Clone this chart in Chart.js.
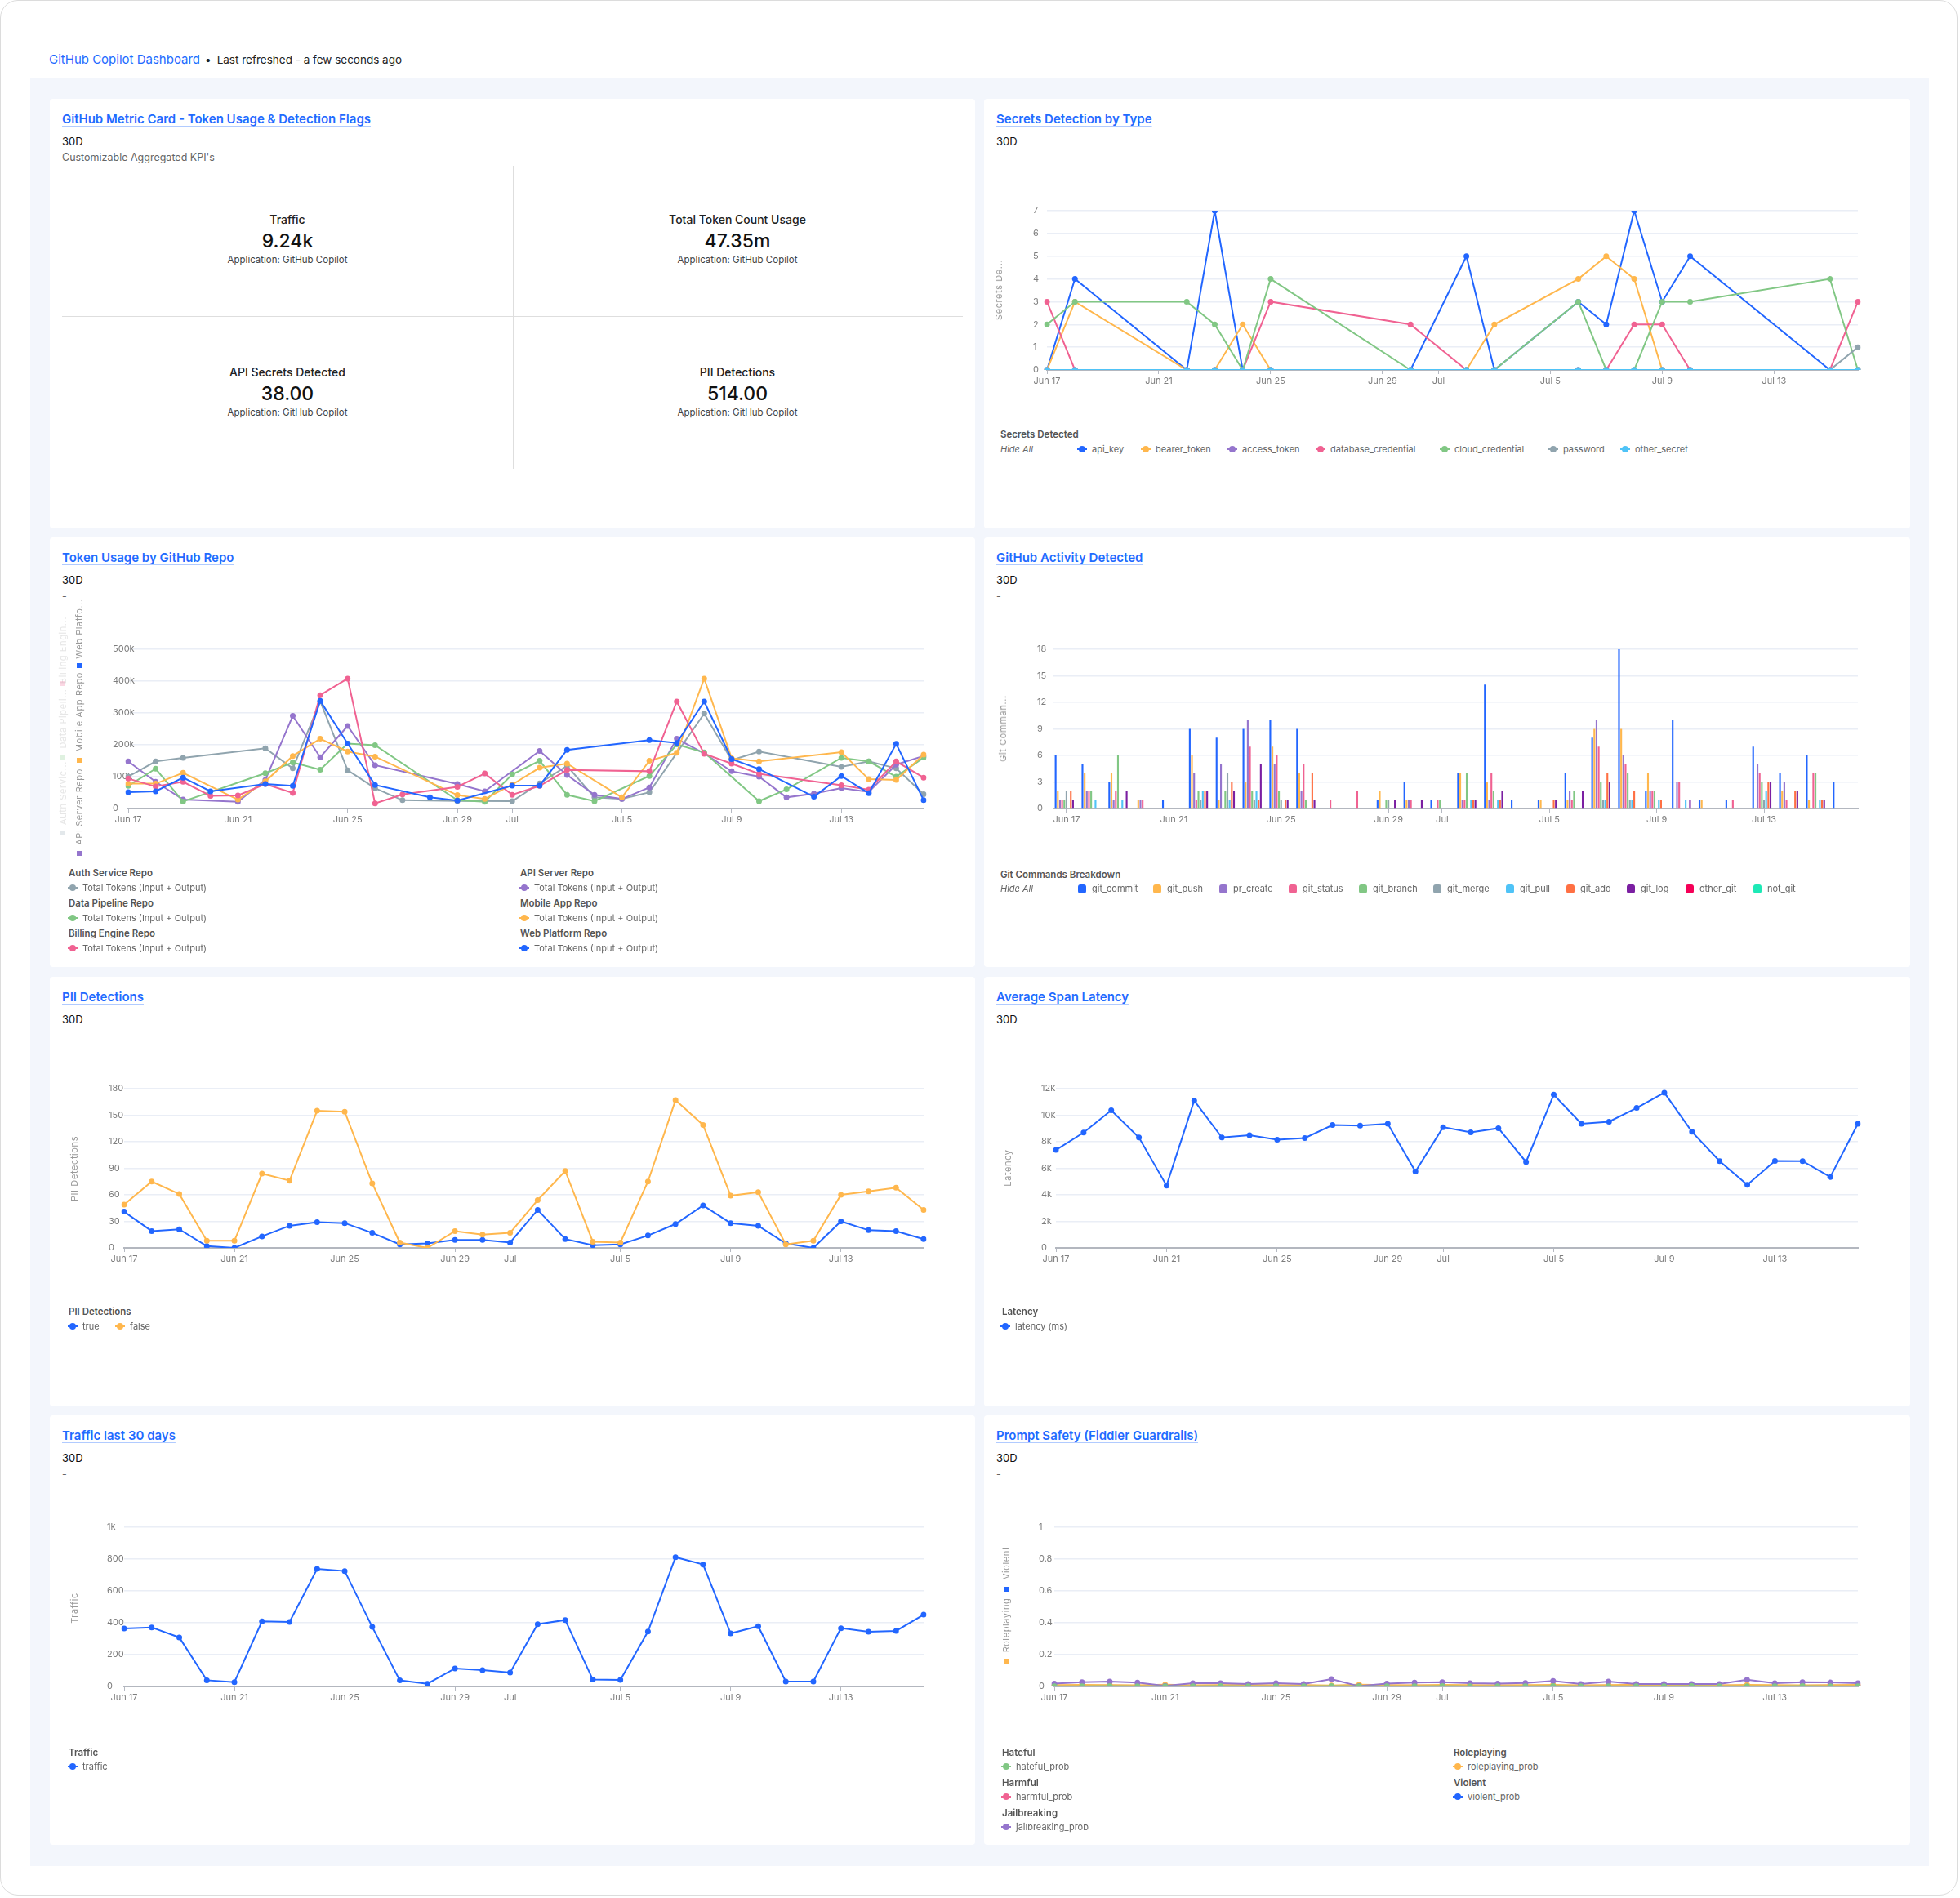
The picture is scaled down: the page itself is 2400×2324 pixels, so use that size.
<!DOCTYPE html>
<html>
<head>
<meta charset="utf-8">
<title>GitHub Copilot Dashboard</title>
<script src="https://cdn.jsdelivr.net/npm/chart.js@4.4.1/dist/chart.umd.min.js"></script>
<style>
  html, body { margin: 0; padding: 0; background: #fff; }
  body { width: 2400px; height: 2324px; position: relative; overflow: hidden;
         font-family: Inter, "Noto Sans", Arial, sans-serif; }
  .frame { position: absolute; left: 0; top: 0; width: 2397px; height: 2321px; box-sizing: border-box;
           border: 1.5px solid #dcdcdc; border-radius: 22px; }
  .hdr { position: absolute; left: 60px; top: 64px; line-height: 18px; font-size: 13.5px; color: #222; white-space: nowrap; }
  .hdr .app { color: #1f6bff; font-size: 15px; }
  .hdr .dot { margin: 0 7px 0 6px; }
  .bg { position: absolute; left: 37px; top: 95px; width: 2325px; height: 2190px; background: #f3f6fc; }
  .card { position: absolute; background: #fff; border-radius: 4px; }
  .ttl { position: absolute; left: 15px; top: 16px; line-height: 18px; font-size: 15px; font-weight: 600; color: #1f6bff;
         text-decoration: underline; text-decoration-color: rgba(31,107,255,0.35); text-underline-offset: 3px; white-space: nowrap; }
  .d30 { position: absolute; left: 15px; top: 44px; line-height: 17px; font-size: 13px; color: #111; }
  .dash { position: absolute; left: 15px; top: 64px; line-height: 16px; font-size: 12.5px; color: #666; }
  canvas { position: absolute; left: 0; top: 120px; }
  .t { position: absolute; white-space: nowrap; line-height: 16px; }
  .lgt { font-size: 11.5px; font-weight: 600; color: #555; }
  .lgi { font-size: 11px; color: #666; }
  .hide { font-size: 11px; font-style: italic; color: #666; }
  .lk { position: absolute; width: 12px; height: 10px; }
  .lk .ln { position: absolute; left: 0; width: 12px; top: 4px; height: 2px; }
  .lk .pt { position: absolute; left: 2px; top: 1px; width: 8px; height: 8px; border-radius: 50%; }
  .bk { position: absolute; width: 10px; height: 11px; border-radius: 3px; }
  .rot { position: absolute; white-space: nowrap; font-size: 11px; letter-spacing: 0.6px; color: #999;
         transform: translate(-50%, -50%) rotate(-90deg); line-height: 12px; }
  .sq { position: absolute; width: 6px; height: 6px; transform: translate(-50%, -50%); }
  .kl { font-size: 14px; font-weight: 500; color: #222; transform: translateX(-50%); }
  .kv { font-size: 23px; font-weight: 500; color: #111; transform: translateX(-50%); line-height: 28px; }
  .ks { font-size: 11.5px; color: #444; transform: translateX(-50%); }
  .vl { position: absolute; width: 1px; background: #dedede; }
  .hl { position: absolute; height: 1px; background: #dedede; }
</style>
</head>
<body>
<div class="frame"></div>
<div class="hdr"><span class="app">GitHub Copilot Dashboard</span><span class="dot">•</span>Last refreshed - a few seconds ago</div>
<div class="bg"></div>

<div class="card" id="c1" style="left:61px;top:121px;width:1133px;height:526px">
  <div class="ttl">GitHub Metric Card - Token Usage &amp; Detection Flags</div>
  <div class="d30">30D</div>
  <div class="dash">Customizable Aggregated KPI's</div>
</div>
<div class="card" id="c2" style="left:1205px;top:121px;width:1134px;height:526px">
  <div class="ttl">Secrets Detection by Type</div><div class="d30">30D</div><div class="dash">-</div>
  <canvas id="secrets"></canvas>
</div>
<div class="card" id="c3" style="left:61px;top:658px;width:1133px;height:526px">
  <div class="ttl">Token Usage by GitHub Repo</div><div class="d30">30D</div><div class="dash">-</div>
  <canvas id="tokens"></canvas>
</div>
<div class="card" id="c4" style="left:1205px;top:658px;width:1134px;height:526px">
  <div class="ttl">GitHub Activity Detected</div><div class="d30">30D</div><div class="dash">-</div>
  <canvas id="git"></canvas>
</div>
<div class="card" id="c5" style="left:61px;top:1196px;width:1133px;height:526px">
  <div class="ttl">PII Detections</div><div class="d30">30D</div><div class="dash">-</div>
  <canvas id="pii"></canvas>
</div>
<div class="card" id="c6" style="left:1205px;top:1196px;width:1134px;height:526px">
  <div class="ttl">Average Span Latency</div><div class="d30">30D</div><div class="dash">-</div>
  <canvas id="latency"></canvas>
</div>
<div class="card" id="c7" style="left:61px;top:1733px;width:1133px;height:526px">
  <div class="ttl">Traffic last 30 days</div><div class="d30">30D</div><div class="dash">-</div>
  <canvas id="traffic"></canvas>
</div>
<div class="card" id="c8" style="left:1205px;top:1733px;width:1134px;height:526px">
  <div class="ttl">Prompt Safety (Fiddler Guardrails)</div><div class="d30">30D</div><div class="dash">-</div>
  <canvas id="safety"></canvas>
</div>

<script>
// ---- data ----
const days = ['Jun 17','Jun 18','Jun 19','Jun 20','Jun 21','Jun 22','Jun 23','Jun 24','Jun 25','Jun 26',
  'Jun 27','Jun 28','Jun 29','Jun 30','Jul 1','Jul 2','Jul 3','Jul 4','Jul 5','Jul 6',
  'Jul 7','Jul 8','Jul 9','Jul 10','Jul 11','Jul 12','Jul 13','Jul 14','Jul 15','Jul 16'];
const tickDays = [0, 4, 8, 12, 14, 18, 22, 26];
const tickLabels = ['Jun 17','Jun 21','Jun 25','Jun 29','Jul','Jul 5','Jul 9','Jul 13'];

const kpiNames = ['Traffic', 'Total Token Count Usage', 'API Secrets Detected', 'PII Detections'];
const kpiValues = ['9.24k', '47.35m', '38.00', '514.00'];

// secrets detected per type (null = no data that day)
const secretTypes = ['api_key','bearer_token','access_token','database_credential','cloud_credential','password','other_secret'];
const apiKey     = [0,4,null,null,null,0,7,0,0,null,null,null,null,0,null,5,0,null,null,3,2,7,3,5,null,null,null,null,0,0];
const bearerTok  = [0,3,null,null,null,0,0,2,0,null,null,null,null,0,null,0,2,null,null,4,5,4,0,0,null,null,null,null,0,0];
const accessTok  = [0,0,null,null,null,0,0,0,0,null,null,null,null,0,null,0,0,null,null,0,0,0,0,0,null,null,null,null,0,0];
const dbCred     = [3,0,null,null,null,0,0,0,3,null,null,null,null,2,null,0,0,null,null,0,0,2,2,0,null,null,null,null,0,3];
const cloudCred  = [2,3,null,null,null,3,2,0,4,null,null,null,null,0,null,0,0,null,null,3,0,0,3,3,null,null,null,null,4,0];
const password   = [0,0,null,null,null,0,0,0,0,null,null,null,null,0,null,0,0,null,null,0,0,0,0,0,null,null,null,null,0,1];
const otherSec   = [0,0,null,null,null,0,0,0,0,null,null,null,null,0,null,0,0,null,null,0,0,0,0,0,null,null,null,null,0,0];

// total tokens (input + output) per repo, in thousands
const repoNames = ['Auth Service Repo','API Server Repo','Data Pipeline Repo','Mobile App Repo','Billing Engine Repo','Web Platform Repo'];
const authRepo    = [100,148,159,null,null,189,126,337,120,64,26,null,24,null,23,79,134,35,30,51,null,298,152,179,null,null,131,148,126,45];
const apiRepo     = [148,84,28,null,21,90,291,161,259,136,null,null,77,54,null,181,105,43,30,66,219,173,117,100,35,47,64,52,138,165];
const dataRepo    = [71,125,22,null,null,111,145,122,204,199,null,null,26,21,107,150,43,23,null,102,201,176,null,23,60,null,159,148,100,160];
const mobileRepo  = [78,78,112,null,28,85,165,219,179,163,null,null,42,30,75,128,141,null,35,150,175,408,158,148,null,null,177,92,90,169];
const billingRepo = [94,69,84,40,41,77,49,356,408,16,44,null,68,110,43,71,121,null,null,117,336,172,141,109,null,null,73,59,148,97];
const webRepo     = [51,54,97,54,null,77,71,338,204,74,null,35,25,null,72,72,184,null,null,215,206,336,155,124,null,37,102,48,203,26];

// git commands per day
const gitCmds = ['git_commit','git_push','pr_create','git_status','git_branch','git_merge','git_pull','git_add','git_log','other_git','not_git'];
const gitCommit = [6,5,3,0,1,9,8,9,10,9,0,0,1,3,1,4,14,1,1,4,8,18,2,10,1,1,7,4,6,3];
const gitPush   = [2,4,4,1,0,6,1,3,7,4,0,0,2,1,0,4,3,0,1,1,9,9,4,0,1,0,0,2,1,0];
const prCreate  = [1,2,1,1,0,4,5,10,5,2,0,0,0,1,0,1,1,0,0,2,10,6,2,3,0,0,5,3,0,0];
const gitStatus = [1,2,2,1,0,1,0,7,6,5,1,2,0,1,1,1,4,0,0,1,7,5,2,3,0,1,4,1,4,0];
const gitBranch = [1,2,6,0,0,2,2,2,2,1,0,0,1,0,1,4,2,0,0,2,3,4,2,0,0,0,3,0,4,0];
const gitMerge  = [2,0,0,0,0,1,4,1,1,0,0,0,1,0,0,0,0,0,0,0,1,1,0,0,0,0,1,0,0,0];
const gitPull   = [0,1,1,0,0,2,1,2,0,0,0,0,0,0,0,1,1,0,0,0,1,1,1,1,0,0,2,0,1,0];
const gitAdd    = [2,0,0,0,0,2,3,1,1,4,0,0,0,0,0,1,1,0,1,0,4,2,1,0,0,0,3,2,1,0];
const gitLog    = [1,0,2,0,0,2,2,5,1,1,0,0,1,1,0,1,2,0,1,2,3,0,0,1,0,0,3,2,1,0];
const otherGit  = [0,0,0,0,0,0,0,0,0,0,0,0,0,0,0,0,0,0,0,0,0,0,0,0,0,0,0,0,0,0];
const notGit    = [0,0,0,0,0,0,0,0,0,0,0,0,0,0,0,0,0,0,0,0,0,0,0,0,0,0,0,0,0,0];

// pii detections
const piiTrue  = [41,19,21,2,0,13,25,29,28,17,4,5,9,9,6,43,10,3,4,14,27,48,28,25,5,0,30,20,19,10];
const piiFalse = [49,75,61,8,8,84,76,155,154,73,6,0,19,15,17,54,87,7,6,75,167,139,59,63,4,8,60,64,68,43];

// average span latency (ms)
const latencyMs = [7380,8690,10370,8320,4700,11100,8320,8490,8160,8280,9260,9220,9350,5750,9100,
  8710,9020,6480,11550,9350,9510,10550,11700,8750,6540,4760,6560,6540,5340,9350];

// traffic
const traffic = [364,371,308,39,27,409,405,738,725,374,38,17,113,103,87,391,417,43,41,345,812,766,333,378,31,31,366,344,349,451];

// prompt safety probabilities
const hatefulProb = [0.001,0.001,0.002,0.001,0.001,0.001,0.002,0.001,0.001,0.001,0.002,0.001,0.001,0.001,0.002,
  0.001,0.001,0.001,0.002,0.001,0.001,0.001,0.001,0.002,0.001,0.001,0.001,0.002,0.001,0.001];
const harmfulProb = [0.005,0.004,0.006,0.005,0.003,0.005,0.006,0.004,0.005,0.006,0.004,0.003,0.005,0.006,0.005,
  0.004,0.006,0.005,0.004,0.005,0.006,0.004,0.005,0.004,0.006,0.005,0.004,0.005,0.006,0.005];
const jailbreakProb = [0.018,0.027,0.031,0.024,0.004,0.020,0.020,0.016,0.020,0.015,0.046,0.002,0.018,0.024,0.027,
  0.020,0.018,0.022,0.035,0.015,0.031,0.016,0.015,0.016,0.016,0.042,0.020,0.027,0.026,0.020];
const roleplayProb = [0.009,0.010,0.009,0.008,0.011,0.008,0.009,0.010,0.008,0.009,0.007,0.012,0.009,0.008,0.010,
  0.009,0.008,0.009,0.010,0.008,0.009,0.011,0.008,0.009,0.008,0.010,0.009,0.008,0.009,0.010];
const violentProb = [0.000,0.001,0.000,0.000,0.001,0.000,0.000,0.001,0.000,0.000,0.000,0.001,0.000,0.000,0.001,
  0.000,0.000,0.001,0.000,0.000,0.000,0.001,0.000,0.000,0.001,0.000,0.000,0.000,0.001,0.000];

// colours
const BLUE = '#2266ff', ORANGE = '#ffb74d', PURPLE = '#9575cd', PINK = '#f06292', GREEN = '#81c784',
      GREY = '#90a4ae', CYAN = '#4fc3f7', DORANGE = '#ff7043', DPURPLE = '#7b1fa2', RED = '#f50057', TEAL = '#1de9b6';

// ---- helpers ----
function put(card, cls, x, y, html, extra) {
  const d = document.createElement('div');
  d.className = cls;
  d.style.left = x + 'px';
  d.style.top = y + 'px';
  if (extra) Object.assign(d.style, extra);
  d.innerHTML = html;
  document.getElementById(card).appendChild(d);
  return d;
}
function lineItem(card, cx, cy, color, label) {
  put(card, 'lk', cx - 6, cy - 5,
    '<div class="ln" style="background:' + color + '"></div><div class="pt" style="background:' + color + '"></div>');
  put(card, 't lgi', cx + 12, cy - 8, label);
}
function boxItem(card, cx, cy, color, label) {
  put(card, 'bk', cx - 5, cy - 5.5, '', { background: color });
  put(card, 't lgi', cx + 12, cy - 8, label);
}
function rotTitle(card, cx, cy, text, color) {
  put(card, 'rot', cx, cy, text, color ? { color: color } : null);
}
function square(card, cx, cy, color, opacity) {
  put(card, 'sq', cx, cy, '', { background: color, opacity: opacity == null ? 1 : opacity });
}

Chart.defaults.font.family = 'Inter, "Noto Sans", Arial, sans-serif';
Chart.defaults.font.size = 11;
Chart.defaults.color = '#7d7d7d';

function xAxis(isBar) {
  return {
    type: 'category',
    offset: isBar,
    grid: { display: true, drawOnChartArea: false, drawTicks: true, tickLength: 5, color: '#b5b9c2', offset: false },
    border: { display: true, color: '#b3b7bf', width: 2 },
    ticks: {
      autoSkip: false, maxRotation: 0, padding: 2,
      callback: function (v) { return tickLabels[tickDays.indexOf(v)]; }
    },
    afterBuildTicks: function (s) { s.ticks = s.ticks.filter(t => tickDays.includes(t.value)); },
    afterFit: function (s) { s.height = 30; }
  };
}
function yAxis(W, max, step, fmt) {
  return {
    min: 0, max: max,
    border: { display: false },
    grid: { color: '#eaeef6', lineWidth: 1.5, drawTicks: false },
    ticks: { stepSize: step, crossAlign: 'far', callback: fmt || (v => v) },
    afterFit: function (s) {
      s.width = W;
      // let labels run past the narrow axis box instead of being clipped
      s._computeLabelArea = function () { return null; };
    }
  };
}
function lineSet(label, data, color, order) {
  return {
    label: label, data: data, borderColor: color, backgroundColor: color,
    borderWidth: 2, pointRadius: 3.5, pointBorderWidth: 0, pointHoverRadius: 3.5,
    tension: 0, spanGaps: true, fill: false, order: order
  };
}
function makeChart(id, type, datasets, o) {
  const cv = document.getElementById(id);
  const w = cv.parentElement.offsetWidth;
  cv.width = w; cv.height = 250;
  cv.style.width = w + 'px'; cv.style.height = '250px';
  return new Chart(cv, {
    type: type,
    data: { labels: days, datasets: datasets },
    options: {
      responsive: false, animation: false, devicePixelRatio: 1,
      layout: { padding: { left: o.P, right: w - 1070, top: 17, bottom: 8 } },
      plugins: { legend: { display: false }, tooltip: { enabled: false } },
      events: [],
      scales: { x: xAxis(type === 'bar'), y: yAxis(o.W, o.max, o.step, o.fmt) }
    }
  });
}

// ---- KPI card ----
put('c1', 'vl', 567, 82, '', { height: '371px' });
put('c1', 'hl', 15, 266, '', { width: '1103px' });
const kpiPos = [[291, 148], [842, 148], [291, 335], [842, 335]];
kpiPos.forEach((p, i) => {
  put('c1', 't kl', p[0], p[1] - 8, kpiNames[i]);
  put('c1', 't kv', p[0], p[1] + 12, kpiValues[i]);
  put('c1', 't ks', p[0], p[1] + 41, 'Application: GitHub Copilot');
});

// ---- Secrets ----
const secretColors = [BLUE, ORANGE, PURPLE, PINK, GREEN, GREY, CYAN];
const secretData = [apiKey, bearerTok, accessTok, dbCred, cloudCred, password, otherSec];
makeChart('secrets', 'line', secretData.map((d, i) => lineSet(secretTypes[i], d, secretColors[i], -i)),
  { P: 60, W: 17, max: 7, step: 1 });
rotTitle('c2', 18, 234, 'Secrets De...');
put('c2', 't lgt', 20, 403, 'Secrets Detected');
put('c2', 't hide', 20, 421, 'Hide All');
const secretLegX = [120, 198, 304, 412, 564, 697, 785];
secretTypes.forEach((n, i) => lineItem('c2', secretLegX[i], 429, secretColors[i], n));

// ---- Tokens ----
const repoColors = [GREY, PURPLE, GREEN, ORANGE, PINK, BLUE];
const repoData = [authRepo, apiRepo, dataRepo, mobileRepo, billingRepo, webRepo];
makeChart('tokens', 'line', repoData.map((d, i) => lineSet('Total Tokens (Input + Output)', d, repoColors[i], -i)),
  { P: 77, W: 19, max: 500, step: 100, fmt: v => v === 0 ? '0' : v + 'k' });
// stacked axis titles
rotTitle('c3', 16, 138, 'Billing Engin...', '#e6e6e6'); square('c3', 16, 179, PINK, 0.25);
rotTitle('c3', 16, 222, 'Data Pipeli...', '#e6e6e6'); square('c3', 16, 270, GREEN, 0.25);
rotTitle('c3', 16, 313, 'Auth Servic...', '#e6e6e6'); square('c3', 16, 362, GREY, 0.25);
rotTitle('c3', 36, 112, 'Web Platfo...'); square('c3', 36, 157, BLUE);
rotTitle('c3', 36, 214, 'Mobile App Repo'); square('c3', 36, 273, ORANGE);
rotTitle('c3', 36, 330, 'API Server Repo'); square('c3', 36, 387, PURPLE);
const repoLeg = [[23, 411], [576, 411], [23, 448], [576, 448], [23, 485], [576, 485]];
repoNames.forEach((n, i) => {
  const p = repoLeg[i];
  put('c3', 't lgt', p[0], p[1] - 8, n);
  lineItem('c3', p[0] + 5, p[1] + 18, repoColors[i], 'Total Tokens (Input + Output)');
});

// ---- Git activity ----
const gitColors = [BLUE, ORANGE, PURPLE, PINK, GREEN, GREY, CYAN, DORANGE, DPURPLE, RED, TEAL];
const gitData = [gitCommit, gitPush, prCreate, gitStatus, gitBranch, gitMerge, gitPull, gitAdd, gitLog, otherGit, notGit];
makeChart('git', 'bar', gitData.map((d, i) => ({
  label: gitCmds[i], data: d, backgroundColor: gitColors[i], borderWidth: 0,
  categoryPercentage: 0.89, barPercentage: 0.8
})), { P: 65, W: 19.5, max: 18, step: 3 });
rotTitle('c4', 23, 234, 'Git Comman...');
put('c4', 't lgt', 20, 405, 'Git Commands Breakdown');
put('c4', 't hide', 20, 422, 'Hide All');
const gitLegX = [120, 212, 293, 378, 464, 555, 644, 718, 792, 864, 947];
gitCmds.forEach((n, i) => boxItem('c4', gitLegX[i], 430, gitColors[i], n));

// ---- PII ----
makeChart('pii', 'line', [lineSet('true', piiTrue, BLUE, 1), lineSet('false', piiFalse, ORANGE, 0)],
  { P: 72, W: 19, max: 180, step: 30 });
rotTitle('c5', 30, 235, 'PII Detections');
put('c5', 't lgt', 23, 402, 'PII Detections');
lineItem('c5', 28, 428, BLUE, 'true');
lineItem('c5', 86, 428, ORANGE, 'false');

// ---- Latency ----
makeChart('latency', 'line', [lineSet('latency (ms)', latencyMs, BLUE, 0)],
  { P: 70, W: 18, max: 12000, step: 2000, fmt: v => v === 0 ? '0' : (v / 1000) + 'k' });
rotTitle('c6', 29, 234, 'Latency');
put('c6', 't lgt', 22, 402, 'Latency');
lineItem('c6', 26, 428, BLUE, 'latency (ms)');

// ---- Traffic ----
makeChart('traffic', 'line', [lineSet('traffic', traffic, BLUE, 0)],
  { P: 70, W: 21, max: 1000, step: 200, fmt: v => v === 1000 ? '1k' : v });
rotTitle('c7', 30, 236, 'Traffic');
put('c7', 't lgt', 23, 405, 'Traffic');
lineItem('c7', 28, 430, BLUE, 'traffic');

// ---- Prompt safety ----
makeChart('safety', 'line', [
  lineSet('hateful_prob', hatefulProb, GREEN, 0),
  lineSet('harmful_prob', harmfulProb, PINK, 3),
  lineSet('jailbreaking_prob', jailbreakProb, PURPLE, 1),
  lineSet('roleplaying_prob', roleplayProb, ORANGE, 2),
  lineSet('violent_prob', violentProb, BLUE, 4)
], { P: 67, W: 19, max: 1, step: 0.2 });
rotTitle('c8', 26.5, 181, 'Violent'); square('c8', 26.5, 213, BLUE);
rotTitle('c8', 26.5, 257, 'Roleplaying'); square('c8', 26.5, 301, ORANGE);
const safetyLeg = [['Hateful', 'hateful_prob', GREEN, 22, 413], ['Harmful', 'harmful_prob', PINK, 22, 450],
  ['Jailbreaking', 'jailbreaking_prob', PURPLE, 22, 487], ['Roleplaying', 'roleplaying_prob', ORANGE, 575, 413],
  ['Violent', 'violent_prob', BLUE, 575, 450]];
safetyLeg.forEach(s => {
  put('c8', 't lgt', s[3], s[4] - 8, s[0]);
  lineItem('c8', s[3] + 5, s[4] + 17, s[2], s[1]);
});
</script>
</body>
</html>
